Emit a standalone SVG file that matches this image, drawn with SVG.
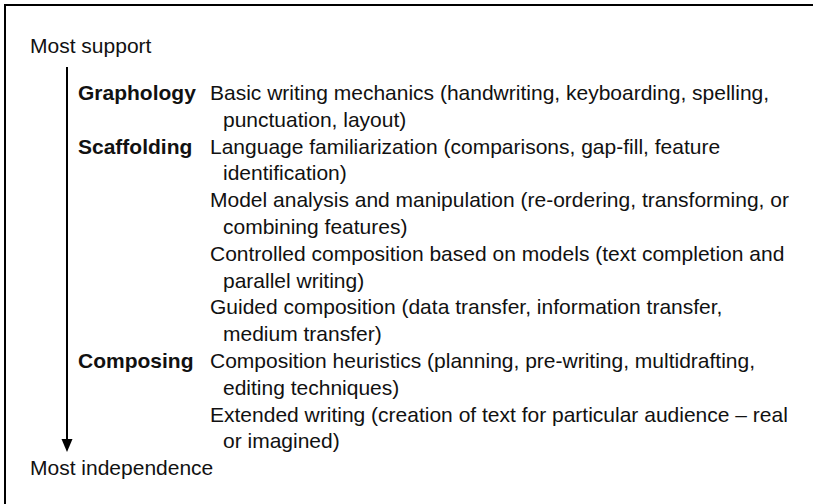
<svg xmlns="http://www.w3.org/2000/svg" width="813" height="504" viewBox="0 0 813 504">
<style>
text{font-family:"Liberation Sans",Arial,Helvetica,sans-serif;font-size:21px;fill:#111;}
.b{font-weight:bold;}
.frame{stroke:#000;stroke-width:2;fill:none;}
.conn{stroke:#000;stroke-width:2;fill:none;}
</style>
<defs>
<marker id="ah" markerWidth="12" markerHeight="12" refX="5.5" refY="11" orient="auto-start-reverse" markerUnits="userSpaceOnUse" viewBox="0 0 11 12">
<path d="M0,0 L11,0 L5.5,12 Z" fill="#000"/>
</marker>
</defs>
<rect width="813" height="504" fill="#fff"/>
<path class="frame" d="M5,504 L5,5 L813,5"/>
<g id="connectors">
<line class="conn" x1="67" y1="67" x2="67" y2="440"/>
<path d="M61.5,439 L72.5,439 L67,452 Z" fill="#000"/>
</g>
<g id="most-support"><text x="30" y="53">Most support</text></g>
<g id="graphology">
<text class="b" x="78" y="100">Graphology</text>
<text x="210" y="100">Basic writing mechanics (handwriting, keyboarding, spelling,</text>
<text x="223" y="126.8">punctuation, layout)</text>
</g>
<g id="scaffolding">
<text class="b" x="78" y="153.6">Scaffolding</text>
<text x="210" y="153.6">Language familiarization (comparisons, gap-fill, feature</text>
<text x="223" y="180.4">identification)</text>
<text x="210" y="207.2">Model analysis and manipulation (re-ordering, transforming, or</text>
<text x="223" y="234">combining features)</text>
<text x="210" y="260.8">Controlled composition based on models (text completion and</text>
<text x="223" y="287.6">parallel writing)</text>
<text x="210" y="314.4">Guided composition (data transfer, information transfer,</text>
<text x="223" y="341.2">medium transfer)</text>
</g>
<g id="composing">
<text class="b" x="78" y="368">Composing</text>
<text x="210" y="368">Composition heuristics (planning, pre-writing, multidrafting,</text>
<text x="223" y="394.8">editing techniques)</text>
<text x="210" y="421.6">Extended writing (creation of text for particular audience – real</text>
<text x="223" y="448.4">or imagined)</text>
</g>
<g id="most-independence"><text x="30" y="475.2">Most independence</text></g>
</svg>
